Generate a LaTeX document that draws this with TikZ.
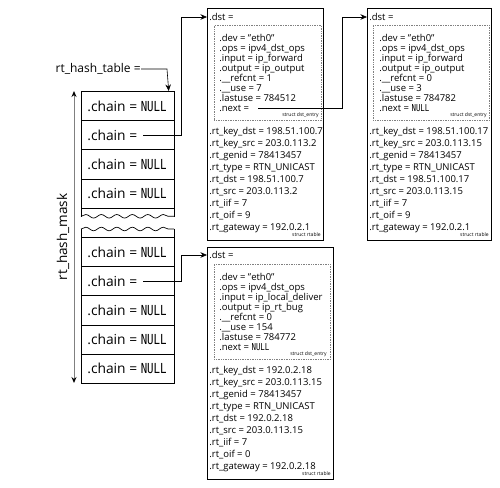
\documentclass[tikz,border=0pt]{standalone}
\usepackage{fontspec}
\setmainfont{Open Sans}
\newfontfamily\codefont{DejaVu Sans Mono}
\usetikzlibrary{arrows.meta,decorations.pathmorphing}
\newcommand\nullval{\scalebox{0.78}[1]{\codefont NULL}}
\newcommand\chaintext[1]{\makebox[81pt][l]{#1}}

\begin{document}
\begin{tikzpicture}[
    x=1pt,
    y=-1pt,
    line width=0.7pt,
    row/.style={
      draw,
      anchor=north west,
      minimum width=93pt,
      minimum height=29.2pt,
      inner xsep=6pt,
      inner ysep=0pt,
      font=\fontsize{13.8}{15}\selectfont
    },
    box/.style={draw, anchor=north west, inner sep=0pt},
    entry/.style={draw, densely dotted, gray, anchor=north west, inner sep=0pt},
    txt/.style={anchor=west, inner sep=0pt, font=\fontsize{9.5}{10}\selectfont},
    dstlines/.style={anchor=north west, inner sep=0pt, align=left, font=\fontsize{9.5}{10}\selectfont},
    rtlines/.style={anchor=north west, inner sep=0pt, align=left, font=\fontsize{9.5}{12}\selectfont},
    tag/.style={anchor=east, inner sep=0pt, font=\fontsize{5}{6}\selectfont},
    link/.style={-{Stealth[length=6.5pt,width=5.5pt]}, line width=0.6pt},
    cut/.style={decorate, decoration={snake, segment length=15.5pt, amplitude=1.8pt}}
  ]
    \useasboundingbox (0,0) rectangle (500,487);

    % hash table
    \node[row] (r1) at (81,91) {\chaintext{.chain = \nullval}};
    \node[row] (r2) at (81,120.2) {\chaintext{.chain =}};
    \node[row] (r3) at (81,149.4) {\chaintext{.chain = \nullval}};
    \node[row] (r4) at (81,178.6) {\chaintext{.chain = \nullval}};
    \node[row] (r5) at (81,237) {\chaintext{.chain = \nullval}};
    \node[row] (r6) at (81,266.2) {\chaintext{.chain =}};
    \node[row] (r7) at (81,295.4) {\chaintext{.chain = \nullval}};
    \node[row] (r8) at (81,324.6) {\chaintext{.chain = \nullval}};
    \node[row] (r9) at (81,353.8) {\chaintext{.chain = \nullval}};

    \draw (r4.south west) -- ++(0,8.5);
    \draw (r4.south east) -- ++(0,8.5);
    \draw[cut] (81,216.3) -- (174,216.3);
    \draw (r5.north west) -- ++(0,-8);
    \draw (r5.north east) -- ++(0,-8);
    \draw[cut] (81,229) -- (174,229);

    \node[anchor=east, inner sep=0pt, font=\fontsize{12}{13}\selectfont] (tbl) at (141,69) {rt\_hash\_table =};
    \draw[link] (tbl.east) -- ++(26,0) -- ([xshift=-6pt]r1.north east);

    \coordinate (mtop) at (74,91);
    \coordinate (mbot) at (74,383);
    \draw[gray, line width=1pt, {Stealth[length=6pt,width=5pt,black]}-{Stealth[length=6pt,width=5pt,black]}] (mbot) -- (mtop);
    \node[rotate=90, inner sep=0pt, font=\fontsize{13.5}{15}\selectfont] (mask) at (63,237) {rt\_hash\_mask};

    % rtable 1
    \node[box, minimum width=116pt, minimum height=232pt] (b1) at (207,8) {};
    \node[entry, minimum width=107pt, minimum height=95pt] (e1) at (214,25) {};
    \node[txt] (d1) at (209,17) {.dst =};
    \node[dstlines] (s1) at (219,33.7) {.dev = "eth0"\\.ops = ipv4\_dst\_ops\\.input = ip\_forward\\.output = ip\_output\\.\_\_refcnt = 1\\.\_\_use = 7\\.lastuse = 784512\\.next =};
    \node[tag] (t1) at (319,115) {struct dst\_entry};
    \node[rtlines] (k1) at (209,127) {.rt\_key\_dst = 198.51.100.7\\.rt\_key\_src = 203.0.113.2\\.rt\_genid = 78413457\\.rt\_type = RTN\_UNICAST\\.rt\_dst = 198.51.100.7\\.rt\_src = 203.0.113.2\\.rt\_iif = 7\\.rt\_oif = 9\\.rt\_gateway = 192.0.2.1};
    \node[tag] (g1) at (321,235) {struct rtable};

    % rtable 2
    \node[box, minimum width=124pt, minimum height=232pt] (b2) at (367,8) {};
    \node[entry, minimum width=116pt, minimum height=95pt] (e2) at (373,25) {};
    \node[txt] (d2) at (369,17) {.dst =};
    \node[dstlines] (s2) at (379,33.7) {.dev = "eth0"\\.ops = ipv4\_dst\_ops\\.input = ip\_forward\\.output = ip\_output\\.\_\_refcnt = 0\\.\_\_use = 3\\.lastuse = 784782\\.next = \nullval};
    \node[tag] (t2) at (487,115) {struct dst\_entry};
    \node[rtlines] (k2) at (369,127) {.rt\_key\_dst = 198.51.100.17\\.rt\_key\_src = 203.0.113.15\\.rt\_genid = 78413457\\.rt\_type = RTN\_UNICAST\\.rt\_dst = 198.51.100.17\\.rt\_src = 203.0.113.15\\.rt\_iif = 7\\.rt\_oif = 9\\.rt\_gateway = 192.0.2.1};
    \node[tag] (g2) at (489,235) {struct rtable};

    % rtable 3
    \node[box, minimum width=126pt, minimum height=232pt] (b3) at (207,247) {};
    \node[entry, minimum width=116pt, minimum height=95pt] (e3) at (214,264) {};
    \node[txt] (d3) at (209,255) {.dst =};
    \node[dstlines] (s3) at (219,272.7) {.dev = "eth0"\\.ops = ipv4\_dst\_ops\\.input = ip\_local\_deliver\\.output = ip\_rt\_bug\\.\_\_refcnt = 0\\.\_\_use = 154\\.lastuse = 784772\\.next = \nullval};
    \node[tag] (t3) at (327,354) {struct dst\_entry};
    \node[rtlines] (k3) at (209,366) {.rt\_key\_dst = 192.0.2.18\\.rt\_key\_src = 203.0.113.15\\.rt\_genid = 78413457\\.rt\_type = RTN\_UNICAST\\.rt\_dst = 192.0.2.18\\.rt\_src = 203.0.113.15\\.rt\_iif = 7\\.rt\_oif = 0\\.rt\_gateway = 192.0.2.18};
    \node[tag] (g3) at (331,474) {struct rtable};

    % links
    \coordinate (l2) at (143,135.6);
    \coordinate (l6) at (143,281);
    \coordinate (n1) at (258,108.5);
    \draw[link] (l2) -- (181,135.6) |- (b1.west |- d1);
    \draw[link] (l6) -- (181,281) |- (b3.west |- d3);
    \draw[link] (n1) -- (342,108.5) |- (b2.west |- d2);

  \end{tikzpicture}
\end{document}
